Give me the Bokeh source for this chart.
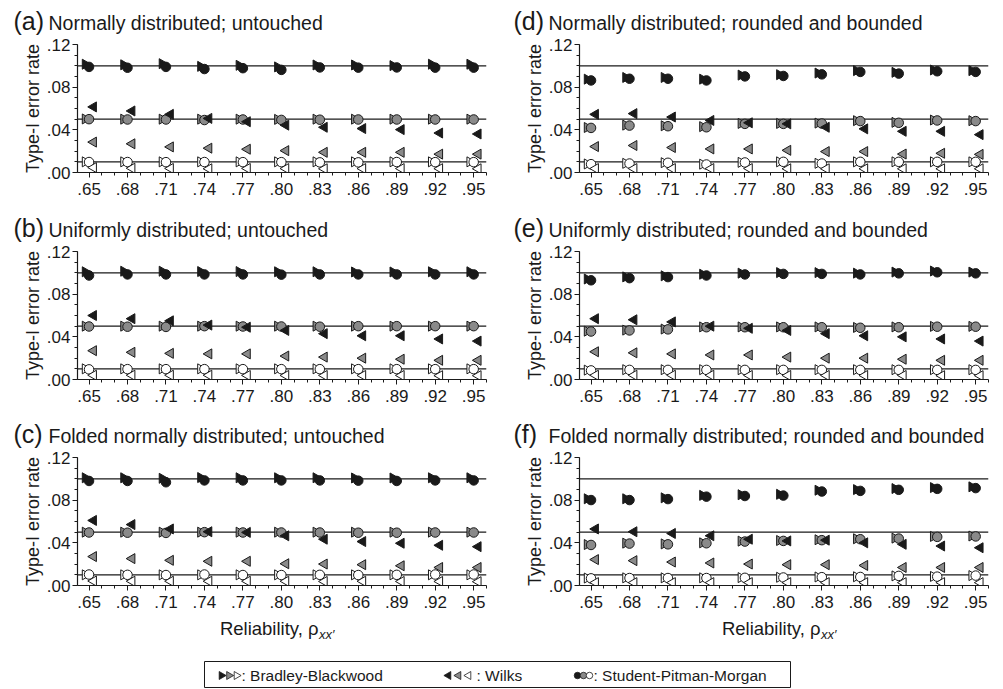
import math
from bokeh.plotting import figure
from bokeh.models import Span, FixedTicker, Range1d, ColumnDataSource
from bokeh.layouts import column, row
from bokeh.transform import dodge
from bokeh.embed import file_html
from bokeh.resources import INLINE
from bokeh.core.properties import value

# ---------------- data ----------------
reliability = [0.65, 0.68, 0.71, 0.74, 0.77, 0.80, 0.83, 0.86, 0.89, 0.92, 0.95]
x_tick_labels = [".65", ".68", ".71", ".74", ".77", ".80", ".83", ".86", ".89", ".92", ".95"]
y_ticks = [0.00, 0.04, 0.08, 0.12]
y_tick_labels = [".00", ".04", ".08", ".12"]
nominal_levels = [0.10, 0.05, 0.01]
level_fills = ["#1a1a1a", "#8a8a8a", "#ffffff"]

panel_letters = ["a", "b", "c", "d", "e", "f"]
panel_titles = [
    "Normally distributed; untouched",
    "Uniformly distributed; untouched",
    "Folded normally distributed; untouched",
    "Normally distributed; rounded and bounded",
    "Uniformly distributed; rounded and bounded",
    "Folded normally distributed; rounded and bounded",
]
test_names = ["Bradley-Blackwood", "Wilks", "Student-Pitman-Morgan"]
x_axis_title = "Reliability, ρ"
x_axis_subscript = "xx′"
y_axis_title = "Type-I error rate"

# (a) Normally distributed; untouched
a_bb_10 = [.1015, .1010, .1020, .0995, .1005, .0990, .1008, .1008, .1002, .1015, .1015]
a_spm_10 = [.0990, .0982, .0990, .0970, .0978, .0962, .0985, .0983, .0985, .0983, .0983]
a_wk_10 = [.0615, .0577, .0545, .0507, .0476, .0444, .0424, .0412, .0402, .0370, .0361]
a_bb_05 = [.0502, .0500, .0500, .0500, .0500, .0498, .0500, .0500, .0500, .0500, .0500]
a_spm_05 = [.0500, .0497, .0497, .0492, .0497, .0493, .0495, .0497, .0497, .0497, .0497]
a_wk_05 = [.0285, .0269, .0240, .0228, .0218, .0205, .0189, .0189, .0189, .0172, .0172]
a_bb_01 = [.0100, .0100, .0100, .0100, .0100, .0100, .0100, .0100, .0100, .0100, .0100]
a_spm_01 = [.0098, .0098, .0097, .0098, .0097, .0097, .0095, .0095, .0098, .0097, .0097]
a_wk_01 = [.0046, .0040, .0038, .0035, .0038, .0037, .0035, .0037, .0037, .0036, .0035]

# (b) Uniformly distributed; untouched
b_bb_10 = [.1010, .1015, .1015, .1012, .1012, .1010, .1010, .1008, .1008, .1010, .1010]
b_spm_10 = [.0975, .0985, .0985, .0985, .0985, .0983, .0985, .0985, .0985, .0985, .0985]
b_wk_10 = [.0600, .0570, .0550, .0510, .0490, .0460, .0430, .0410, .0410, .0380, .0360]
b_bb_05 = [.0500, .0500, .0500, .0500, .0500, .0500, .0500, .0500, .0500, .0500, .0500]
b_spm_05 = [.0497, .0495, .0493, .0500, .0497, .0497, .0495, .0500, .0500, .0500, .0500]
b_wk_05 = [.0270, .0255, .0245, .0240, .0240, .0220, .0210, .0200, .0190, .0180, .0180]
b_bb_01 = [.0100, .0100, .0100, .0100, .0100, .0100, .0100, .0100, .0100, .0100, .0100]
b_spm_01 = [.0095, .0097, .0097, .0097, .0097, .0097, .0097, .0097, .0097, .0097, .0097]
b_wk_01 = [.0040, .0040, .0040, .0040, .0038, .0038, .0038, .0038, .0038, .0036, .0036]

# (c) Folded normally distributed; untouched
c_bb_10 = [.1010, .1010, .1005, .1012, .1010, .1010, .1010, .1008, .1008, .1010, .1010]
c_spm_10 = [.0980, .0980, .0968, .0985, .0985, .0985, .0985, .0983, .0980, .0985, .0985]
c_wk_10 = [.0610, .0571, .0530, .0504, .0498, .0466, .0434, .0412, .0396, .0377, .0364]
c_bb_05 = [.0500, .0500, .0500, .0500, .0500, .0500, .0500, .0500, .0500, .0500, .0500]
c_spm_05 = [.0497, .0495, .0493, .0500, .0497, .0497, .0497, .0495, .0495, .0497, .0497]
c_wk_05 = [.0271, .0252, .0236, .0227, .0227, .0204, .0201, .0195, .0185, .0169, .0169]
c_bb_01 = [.0100, .0100, .0100, .0100, .0100, .0100, .0100, .0100, .0100, .0100, .0100]
c_spm_01 = [.0103, .0100, .0098, .0103, .0098, .0098, .0100, .0098, .0100, .0103, .0103]
c_wk_01 = [.0042, .0040, .0040, .0040, .0040, .0040, .0038, .0040, .0038, .0038, .0036]

# (d) Normally distributed; rounded and bounded
d_bb_10 = [.0875, .0891, .0891, .0875, .0913, .0917, .0932, .0955, .0939, .0961, .0955]
d_spm_10 = [.0863, .0879, .0879, .0863, .0901, .0905, .0920, .0943, .0927, .0949, .0943]
d_wk_10 = [.0545, .0552, .0520, .0488, .0466, .0456, .0424, .0409, .0386, .0386, .0355]
d_bb_05 = [.0422, .0444, .0438, .0430, .0460, .0460, .0463, .0486, .0470, .0492, .0486]
d_spm_05 = [.0418, .0440, .0434, .0424, .0456, .0456, .0459, .0482, .0466, .0488, .0482]
d_wk_05 = [.0243, .0253, .0234, .0221, .0221, .0208, .0196, .0196, .0173, .0180, .0170]
d_bb_01 = [.0080, .0086, .0092, .0078, .0095, .0100, .0086, .0100, .0100, .0100, .0100]
d_spm_01 = [.0078, .0084, .0091, .0075, .0094, .0100, .0084, .0100, .0100, .0100, .0100]
d_wk_01 = [.0037, .0037, .0037, .0037, .0037, .0035, .0035, .0035, .0035, .0035, .0035]

# (e) Uniformly distributed; rounded and bounded
e_bb_10 = [.0942, .0962, .0972, .0987, .0997, .1002, .1002, .0997, .1007, .1017, .1007]
e_spm_10 = [.0930, .0950, .0960, .0975, .0985, .0990, .0990, .0985, .0995, .1005, .0995]
e_wk_10 = [.0570, .0560, .0540, .0500, .0480, .0460, .0430, .0410, .0400, .0380, .0360]
e_bb_05 = [.0453, .0463, .0473, .0493, .0493, .0493, .0493, .0488, .0493, .0498, .0498]
e_spm_05 = [.0450, .0460, .0470, .0490, .0490, .0490, .0490, .0485, .0490, .0495, .0495]
e_wk_05 = [.0260, .0250, .0240, .0230, .0230, .0210, .0200, .0200, .0190, .0180, .0180]
e_bb_01 = [.0088, .0092, .0092, .0092, .0092, .0092, .0092, .0092, .0092, .0092, .0092]
e_spm_01 = [.0085, .0090, .0090, .0090, .0090, .0090, .0090, .0090, .0090, .0090, .0090]
e_wk_01 = [.0040, .0040, .0040, .0040, .0038, .0038, .0038, .0038, .0038, .0036, .0036]

# (f) Folded normally distributed; rounded and bounded
f_bb_10 = [.0813, .0813, .0822, .0845, .0851, .0855, .0893, .0899, .0909, .0918, .0925]
f_spm_10 = [.0801, .0801, .0810, .0833, .0839, .0843, .0881, .0887, .0897, .0906, .0913]
f_wk_10 = [.0530, .0504, .0488, .0466, .0434, .0418, .0425, .0400, .0386, .0370, .0354]
f_bb_05 = [.0384, .0397, .0390, .0400, .0416, .0422, .0429, .0438, .0444, .0460, .0464]
f_spm_05 = [.0380, .0393, .0386, .0396, .0412, .0418, .0425, .0434, .0440, .0456, .0460]
f_wk_05 = [.0243, .0233, .0220, .0211, .0201, .0195, .0195, .0188, .0169, .0169, .0169]
f_bb_01 = [.0070, .0072, .0072, .0072, .0074, .0077, .0080, .0082, .0090, .0085, .0093]
f_spm_01 = [.0067, .0070, .0070, .0070, .0072, .0075, .0078, .0080, .0090, .0083, .0093]
f_wk_01 = [.0027, .0027, .0027, .0027, .0027, .0027, .0027, .0027, .0027, .0027, .0027]

panel_data = {
    "a": ([a_bb_10, a_bb_05, a_bb_01], [a_spm_10, a_spm_05, a_spm_01], [a_wk_10, a_wk_05, a_wk_01]),
    "b": ([b_bb_10, b_bb_05, b_bb_01], [b_spm_10, b_spm_05, b_spm_01], [b_wk_10, b_wk_05, b_wk_01]),
    "c": ([c_bb_10, c_bb_05, c_bb_01], [c_spm_10, c_spm_05, c_spm_01], [c_wk_10, c_wk_05, c_wk_01]),
    "d": ([d_bb_10, d_bb_05, d_bb_01], [d_spm_10, d_spm_05, d_spm_01], [d_wk_10, d_wk_05, d_wk_01]),
    "e": ([e_bb_10, e_bb_05, e_bb_01], [e_spm_10, e_spm_05, e_spm_01], [e_wk_10, e_wk_05, e_wk_01]),
    "f": ([f_bb_10, f_bb_05, f_bb_01], [f_spm_10, f_spm_05, f_spm_01], [f_wk_10, f_wk_05, f_wk_01]),
}

# ---------------- styling / layout ----------------
FONT = "Liberation Sans"
INK = "#1a1a1a"
LEFT_W = 510
RIGHT_W = 485
TOTAL_W = LEFT_W + RIGHT_W
BORDER_L = [77, 69]
FRAME_W = 409
FRAME_H = 128
BORDER_T = 8
BORDER_B = [35, 34, 30]
HEADER_H = [36, 36, 36]
FOOT_H = 73
minor_x = [round(0.64 + 0.01 * i, 2) for i in range(33)]
minor_y = [round(0.01 * i, 2) for i in range(13)]


def bare_fig(width, height):
    f = figure(width=width, height=height, x_range=Range1d(0, width), y_range=Range1d(0, height),
               output_backend="svg", toolbar_location=None, min_border=0,
               x_axis_location=None, y_axis_location=None)
    f.outline_line_color = None
    f.grid.visible = False
    return f


def make_header(i_left, i_right, height):
    h = bare_fig(TOTAL_W, height)
    letters = ["(%s)" % panel_letters[i_left], "(%s)" % panel_letters[i_right]]
    titles = [panel_titles[i_left], panel_titles[i_right]]
    h.text(x=[13, 513], y=[15.2, 15.2], text=letters, text_font=value(FONT),
           text_font_size=value("25px"), text_color=INK, text_baseline="middle")
    h.text(x=[48, 548], y=[13.3, 13.3], text=titles, text_font=value(FONT),
           text_font_size=value("19.5px"), text_color=INK, text_baseline="middle")
    return h


def make_panel(letter, is_left, row_idx):
    width = LEFT_W if is_left else RIGHT_W
    bl = BORDER_L[0] if is_left else BORDER_L[1]
    height = BORDER_T + FRAME_H + BORDER_B[row_idx]
    p = figure(
        width=width, height=height,
        x_range=Range1d(0.641, 0.960), y_range=Range1d(0.0, 0.12),
        output_backend="svg", toolbar_location=None,
        min_border_left=bl, min_border_right=width - bl - FRAME_W,
        min_border_top=BORDER_T, min_border_bottom=BORDER_B[row_idx],
    )
    p.outline_line_color = None
    p.xgrid.visible = False
    p.ygrid.visible = False

    xa = p.xaxis[0]
    ya = p.yaxis[0]
    xa.ticker = FixedTicker(ticks=reliability, minor_ticks=minor_x)
    xa.major_label_overrides = dict(zip(reliability, x_tick_labels))
    ya.ticker = FixedTicker(ticks=y_ticks, minor_ticks=minor_y)
    ya.major_label_overrides = dict(zip(y_ticks, y_tick_labels))
    for ax in (xa, ya):
        ax.axis_line_color = INK
        ax.axis_line_width = 1.2
        ax.major_tick_line_color = INK
        ax.minor_tick_line_color = INK
        ax.major_tick_out = 5
        ax.major_tick_in = 0
        ax.minor_tick_out = 3
        ax.minor_tick_in = 0
        ax.major_label_text_font = FONT
        ax.major_label_text_font_size = "17px"
        ax.major_label_text_color = INK
    xa.major_label_standoff = 5
    ya.major_label_standoff = 2
    ya.axis_label = y_axis_title
    ya.axis_label_text_font = FONT
    ya.axis_label_text_font_size = "18px"
    ya.axis_label_text_font_style = "normal"
    ya.axis_label_text_color = INK
    ya.axis_label_standoff = 1

    for lv in nominal_levels:
        p.add_layout(Span(location=lv, dimension="width", line_color=INK,
                          line_width=1.3, level="underlay"))

    bb, spm, wk = panel_data[letter]
    sources = [ColumnDataSource(dict(x=reliability, bb=bb[k], spm=spm[k], wk=wk[k]))
               for k in range(3)]
    for k in range(3):
        p.scatter(x=dodge("x", -0.003), y="bb", source=sources[k], marker="triangle",
                  angle=-math.pi / 2, size=10, fill_color=level_fills[k],
                  line_color=INK, line_width=1)
    for k in range(3):
        p.scatter(x="x", y="spm", source=sources[k], marker="circle", size=9.5,
                  fill_color=level_fills[k], line_color=INK, line_width=1)
    for k in range(3):
        p.scatter(x=dodge("x", 0.0035), y="wk", source=sources[k], marker="triangle",
                  angle=math.pi / 2, size=10, fill_color=level_fills[k],
                  line_color=INK, line_width=1)
    return p


panels = {}
for i, letter in enumerate(panel_letters):
    panels[letter] = make_panel(letter, i < 3, i % 3)

# ---------------- footer: x-axis titles + legend ----------------
foot = bare_fig(TOTAL_W, FOOT_H)
foot.text(x=[318, 820], y=[60.3, 60.3], text=[x_axis_title, x_axis_title],
          text_font=value(FONT), text_font_size=value("18.5px"), text_color=INK,
          text_align="right", text_baseline="middle")
foot.text(x=[318.5, 820.5], y=[54.5, 54.5], text=[x_axis_subscript, x_axis_subscript],
          text_font=value(FONT), text_font_size=value("13px"), text_font_style="italic",
          text_color=INK, text_align="left", text_baseline="middle")
foot.quad(left=[204], right=[790], bottom=[1], top=[27], fill_color=None,
          line_color=INK, line_width=1)
foot.scatter(x=[221, 228.5, 236], y=[13, 13, 13], marker="triangle", angle=-math.pi / 2,
             size=8, fill_color=level_fills, line_color=INK, line_width=0.8)
foot.scatter(x=[448, 458, 468], y=[13, 13, 13], marker="triangle", angle=math.pi / 2,
             size=8, fill_color=level_fills, line_color=INK, line_width=0.8)
foot.scatter(x=[577, 583, 589], y=[13, 13, 13], marker="circle",
             size=6.5, fill_color=level_fills, line_color=INK, line_width=0.8)
foot.text(x=[241, 476, 593], y=[13, 13, 13],
          text=[": " + n for n in test_names],
          text_font=value(FONT), text_font_size=value("15.5px"), text_color=INK,
          text_baseline="middle", text_align="left")

layout = column(
    make_header(0, 3, HEADER_H[0]),
    row(panels["a"], panels["d"]),
    make_header(1, 4, HEADER_H[1]),
    row(panels["b"], panels["e"]),
    make_header(2, 5, HEADER_H[2]),
    row(panels["c"], panels["f"]),
    foot,
)

open("out.html", "w").write(file_html(layout, INLINE))
